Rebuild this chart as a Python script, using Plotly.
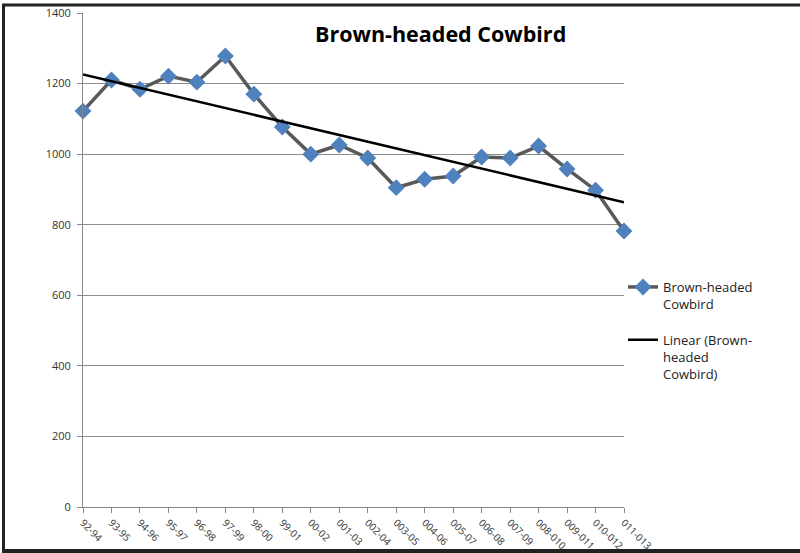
import numpy as np
import plotly.graph_objects as go

periods = ["92-94", "93-95", "94-96", "95-97", "96-98", "97-99", "98-00", "99-01", "00-02",
           "001-03", "002-04", "003-05", "004-06", "005-07", "006-08", "007-09", "008-010",
           "009-011", "010-012", "011-013"]
counts = [1122, 1210, 1184, 1221, 1204, 1278, 1170, 1077, 1000, 1026, 989, 905, 929, 938,
          992, 989, 1023, 958, 898, 782]
y_ticks = [0, 200, 400, 600, 800, 1000, 1200, 1400]

idx = np.arange(len(periods))
slope, intercept = np.polyfit(idx, counts, 1)
trend = list(slope * idx + intercept)

W, H = 800, 553
L, R, T, B = 83, 176, 13, 46
PW, PH = W - L - R, H - T - B


def px(x):
    return (x - L) / PW


def py(y):
    return (H - B - y) / PH


fig = go.Figure()
fig.add_trace(go.Scatter(
    x=periods, y=counts, mode="lines+markers",
    name="Brown-headed<br>Cowbird", legendgroup="a",
    line=dict(color="#595959", width=3.5),
    marker=dict(symbol="diamond", size=13, color="#4F81BD"),
    cliponaxis=False,
))
fig.add_trace(go.Scatter(
    x=periods, y=trend, mode="lines",
    name="Linear (Brown-<br>headed<br>Cowbird)", legendgroup="b",
    line=dict(color="#000000", width=2.5),
    cliponaxis=False,
))

font = "Open Sans, Noto Sans, DejaVu Sans, sans-serif"

fig.update_layout(
    width=W, height=H,
    margin=dict(l=L, r=R, t=T, b=B, autoexpand=False),
    paper_bgcolor="white", plot_bgcolor="white",
    font=dict(family=font, color="#222222"),
    showlegend=True,
    legend=dict(x=px(623), y=py(272), xanchor="left", yanchor="top",
                font=dict(size=13, color="#222222"), tracegroupgap=16,
                traceorder="grouped", valign="top",
                itemwidth=30, bgcolor="rgba(0,0,0,0)"),
    xaxis=dict(
        type="category", range=[0, len(periods) - 1], automargin=False,
        showgrid=False, showline=True, linecolor="#868686", linewidth=1,
        ticks="outside", ticklen=5, tickcolor="#868686", tickangle=45,
        tickfont=dict(size=10, color="#333333"), zeroline=False,
    ),
    yaxis=dict(
        range=[0, 1400], tickvals=y_ticks, ticktext=[str(v) for v in y_ticks],
        automargin=False,
        showgrid=True, gridcolor="#8C8C8C", gridwidth=1,
        showline=True, linecolor="#868686", linewidth=1,
        ticks="outside", ticklen=5, tickcolor="#868686",
        tickfont=dict(size=11, color="#333333"), zeroline=False,
        ticklabelstandoff=4,
    ),
    annotations=[dict(
        text="<b>Brown-headed Cowbird</b>", x=px(440), y=py(33),
        xref="paper", yref="paper", showarrow=False,
        xanchor="center", yanchor="middle",
        font=dict(size=21.5, color="#000000", family=font),
    )],
    shapes=[
        dict(type="line", xref="paper", yref="paper", x0=px(2), x1=px(800), y0=py(5), y1=py(5),
             line=dict(color="#222222", width=3)),
        dict(type="line", xref="paper", yref="paper", x0=px(3.5), x1=px(3.5), y0=py(4), y1=py(553),
             line=dict(color="#222222", width=3)),
        dict(type="line", xref="paper", yref="paper", x0=px(2), x1=px(800), y0=py(551), y1=py(551),
             line=dict(color="#222222", width=4)),
    ],
)

fig.write_html("out.html")
